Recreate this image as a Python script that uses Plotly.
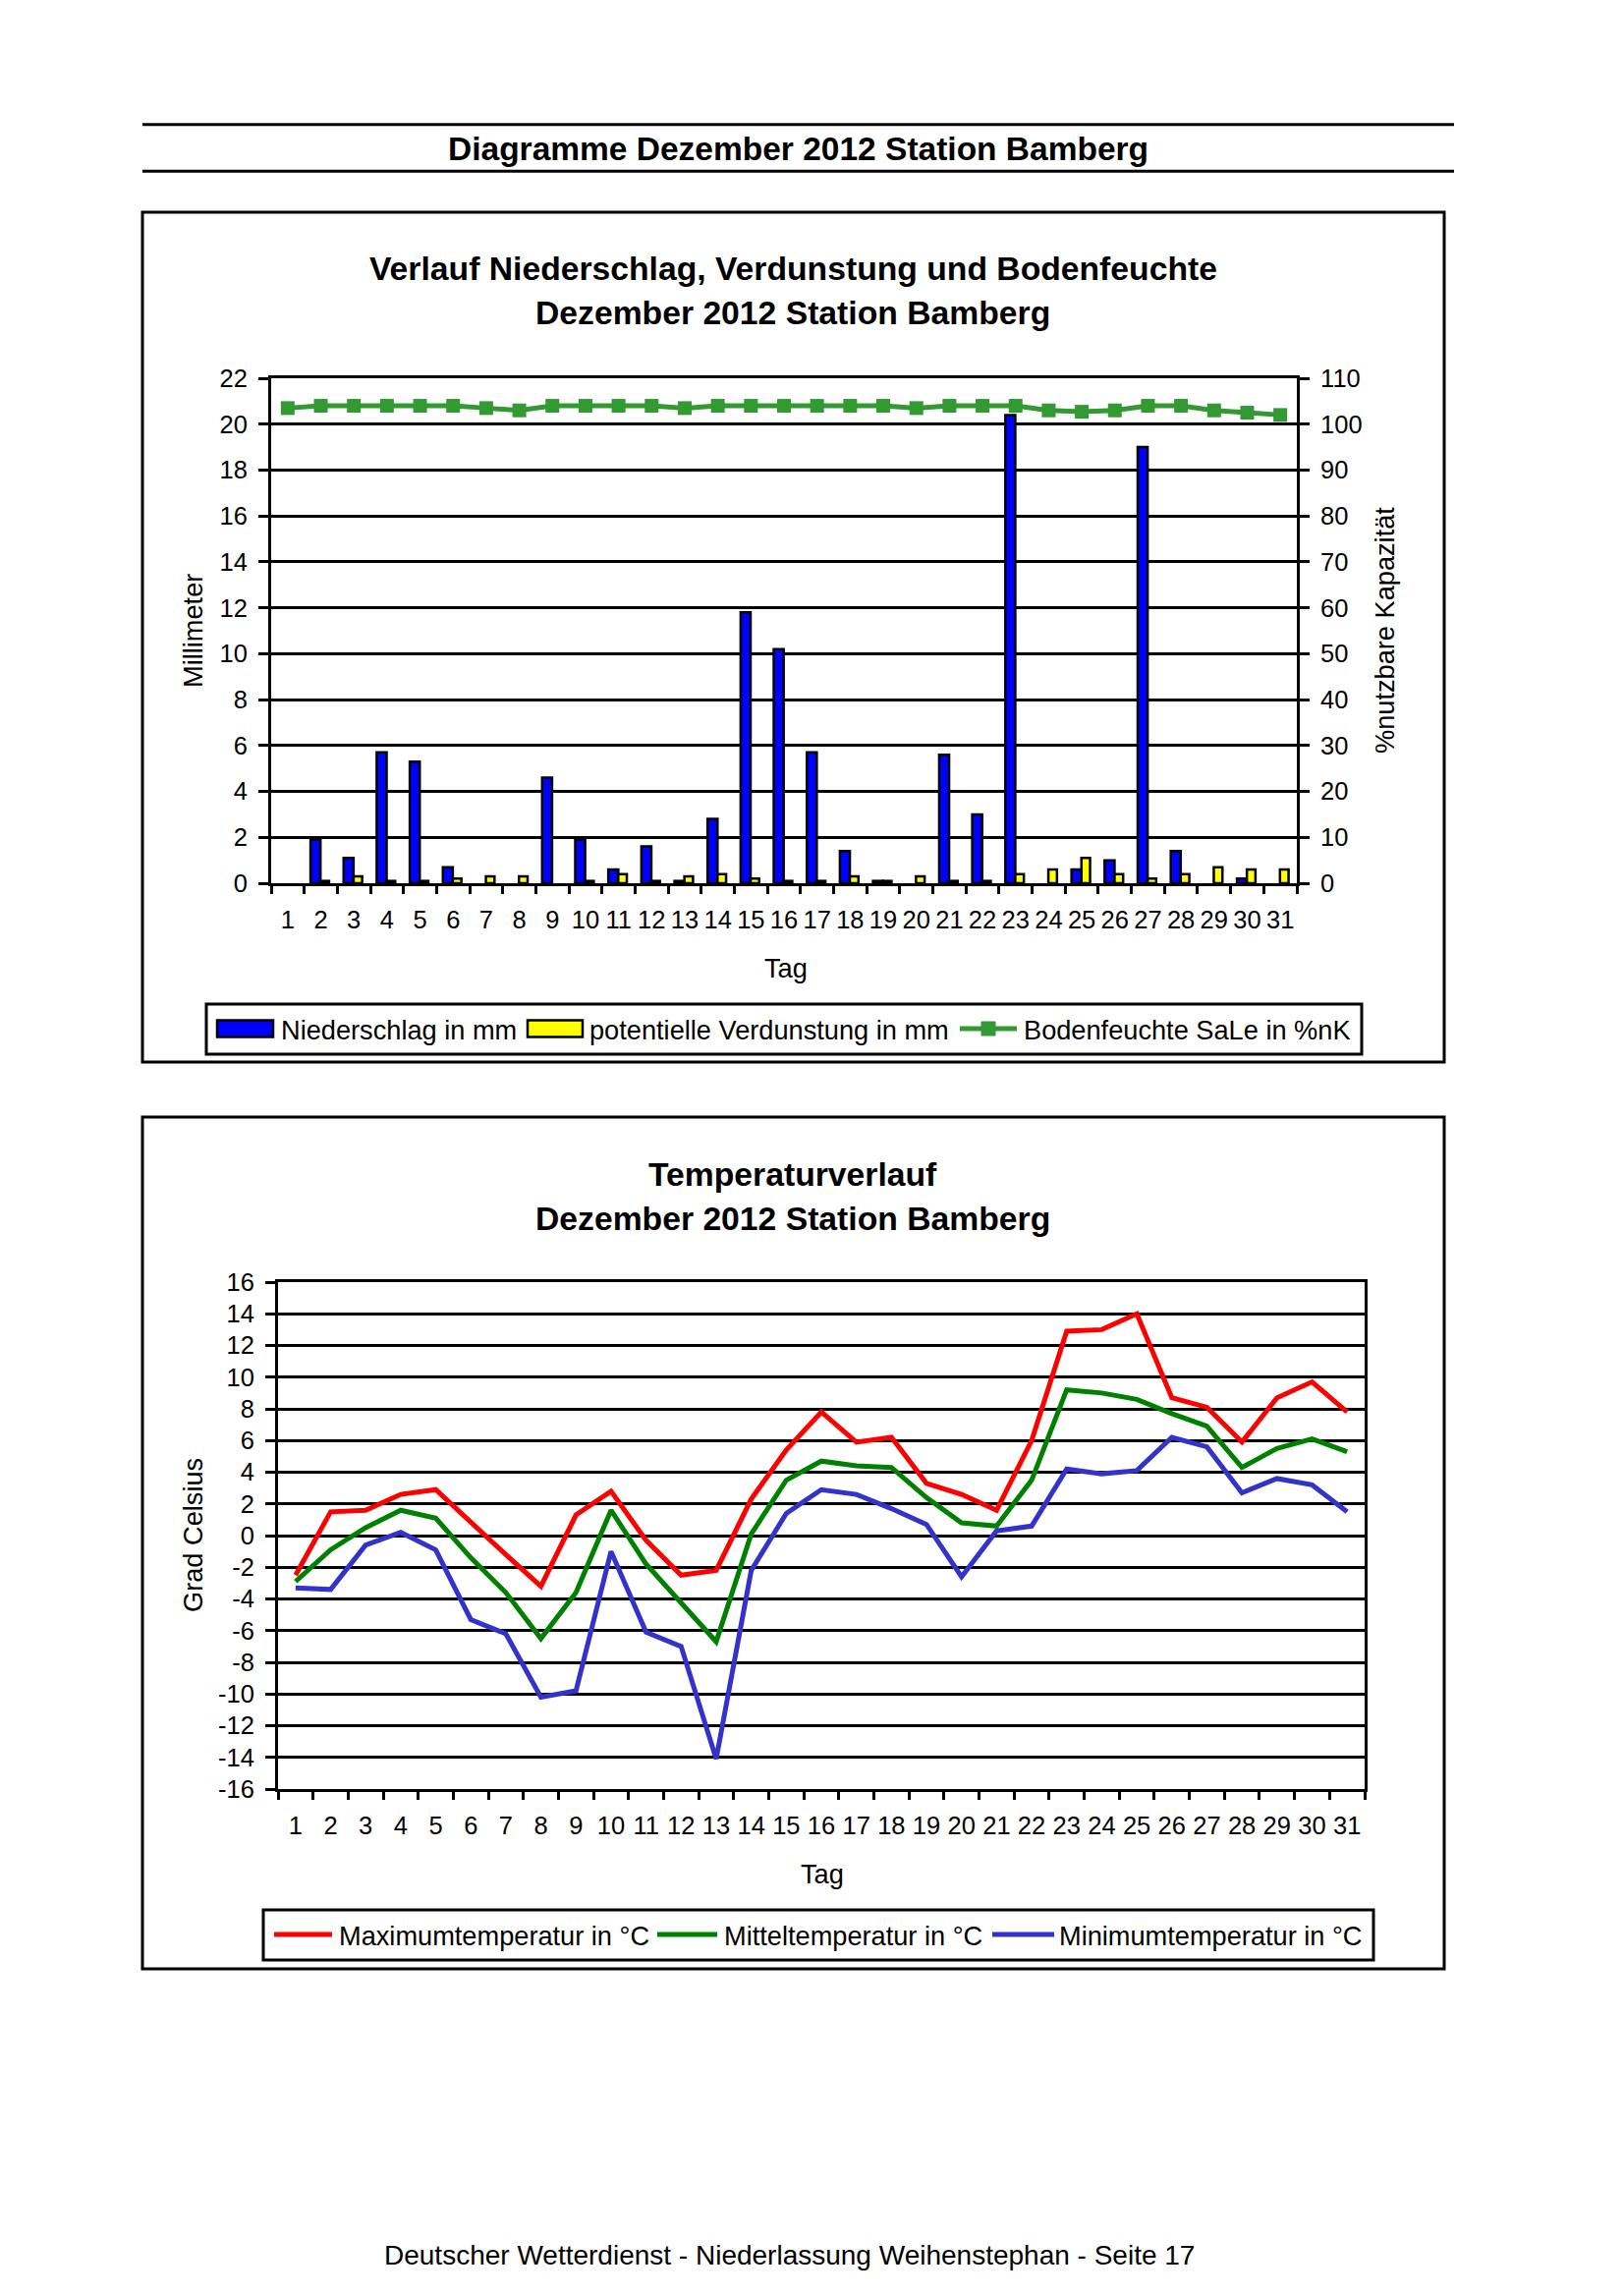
import plotly.graph_objects as go

W, H = 1653, 2337

# ---------------- data ----------------
days = [str(d) for d in range(1, 32)]

niederschlag = [0.0, 1.9, 1.1, 5.7, 5.3, 0.7, 0.0, 0.0, 4.6, 1.9, 0.6, 1.6, 0.1, 2.8, 11.8, 10.2,
                5.7, 1.4, 0.1, 0.0, 5.6, 3.0, 20.4, 0.0, 0.6, 1.0, 19.0, 1.4, 0.0, 0.2, 0.0]
verdunstung = [0.0, 0.1, 0.3, 0.1, 0.1, 0.2, 0.3, 0.3, 0.0, 0.1, 0.4, 0.1, 0.3, 0.4, 0.2, 0.1,
               0.1, 0.3, 0.1, 0.3, 0.1, 0.1, 0.4, 0.6, 1.1, 0.4, 0.2, 0.4, 0.7, 0.6, 0.6]
bodenfeuchte = [103.5, 104, 104, 104, 104, 104, 103.5, 103, 104, 104, 104, 104, 103.5, 104, 104, 104,
                104, 104, 104, 103.5, 104, 104, 104, 103, 102.7, 103, 104, 104, 103, 102.5, 102]

tmax = [-2.5, 1.5, 1.6, 2.6, 2.9, 0.8, -1.2, -3.2, 1.3, 2.8, -0.3, -2.5, -2.2, 2.3, 5.4, 7.8,
        5.9, 6.2, 3.3, 2.6, 1.6, 6.0, 12.9, 13.0, 14.0, 8.7, 8.1, 5.9, 8.7, 9.7, 7.8]
tmit = [-2.9, -0.9, 0.5, 1.6, 1.1, -1.4, -3.6, -6.5, -3.6, 1.6, -1.8, -4.2, -6.7, 0.1, 3.5, 4.7,
        4.4, 4.3, 2.4, 0.8, 0.6, 3.5, 9.2, 9.0, 8.6, 7.7, 6.9, 4.3, 5.5, 6.1, 5.3]
tmin = [-3.3, -3.4, -0.6, 0.2, -0.9, -5.3, -6.2, -10.2, -9.8, -1.0, -6.1, -7.0, -14.1, -2.2, 1.4, 2.9,
        2.6, 1.7, 0.7, -2.6, 0.3, 0.6, 4.2, 3.9, 4.1, 6.2, 5.6, 2.7, 3.6, 3.2, 1.5]

mm_ticks = list(range(0, 23, 2))
pct_ticks = list(range(0, 111, 10))
temp_ticks = list(range(-16, 17, 2))
temp_ticktext = [str(t) for t in temp_ticks]  # plain hyphen minus as in the original

names_top = ["Niederschlag in mm", "potentielle Verdunstung in mm", "Bodenfeuchte SaLe in %nK"]
names_temp = ["Maximumtemperatur in °C", "Mitteltemperatur in °C", "Minimumtemperatur in °C"]

# ---------------- style ----------------
FONT = "Liberation Sans, Arial, sans-serif"
BLUE = "#0000FF"
YELLOW = "#FFFF00"
SOILGREEN = "#339933"
RED = "#FF0000"
GREEN = "#008000"
MINBLUE = "#3333CC"


def px(x):
    return x / W


def py(y):
    return 1 - y / H


fig = go.Figure()

# top chart
fig.add_trace(go.Bar(x=days, y=niederschlag, name=names_top[0], width=0.3, offset=-0.31,
                     marker=dict(color=BLUE, line=dict(color="black",
                                                       width=[2.5 if v > 0 else 0 for v in niederschlag])),
                     xaxis="x", yaxis="y", showlegend=False))
fig.add_trace(go.Bar(x=days, y=verdunstung, name=names_top[1], width=0.26, offset=-0.01,
                     marker=dict(color=YELLOW, line=dict(color="black",
                                                         width=[2.5 if v > 0 else 0 for v in verdunstung])),
                     xaxis="x", yaxis="y", showlegend=False))
fig.add_trace(go.Scatter(x=days, y=bodenfeuchte, name=names_top[2], mode="lines+markers",
                         line=dict(color=SOILGREEN, width=5),
                         marker=dict(symbol="square", size=14, color=SOILGREEN),
                         xaxis="x", yaxis="y2", showlegend=False))

# temperature chart
for vals, nm, col in [(tmax, names_temp[0], RED), (tmit, names_temp[1], GREEN), (tmin, names_temp[2], MINBLUE)]:
    fig.add_trace(go.Scatter(x=days, y=vals, name=nm, mode="lines",
                             line=dict(color=col, width=5),
                             xaxis="x2", yaxis="y3", showlegend=False))

tickfont = dict(family=FONT, size=25.5, color="black")

xcommon = dict(type="category", categoryorder="array", categoryarray=days,
               range=[-0.5, 30.5], showgrid=False, zeroline=False,
               showline=True, linecolor="black", linewidth=3, mirror=True,
               ticks="outside", tickson="boundaries", ticklen=8, tickwidth=3,
               tickcolor="black", tickfont=tickfont, tickangle=0, ticklabelstandoff=12,
               automargin=False)

ycommon = dict(showgrid=True, gridcolor="black", gridwidth=3, zeroline=False,
               showline=True, linecolor="black", linewidth=3,
               ticks="outside", ticklen=10, tickwidth=3, tickcolor="black",
               tickfont=tickfont, ticklabelstandoff=6, automargin=False)

fig.update_layout(
    width=W, height=H,
    autosize=False,
    margin=dict(l=0, r=0, t=0, b=0, pad=0, autoexpand=False),
    paper_bgcolor="white", plot_bgcolor="white",
    barmode="overlay",
    showlegend=False,
    xaxis=dict(domain=[px(276), px(1320)], anchor="y", **xcommon),
    yaxis=dict(domain=[py(899), py(385)], range=[0, 22], tickvals=mm_ticks,
               anchor="x", **ycommon),
    yaxis2=dict(overlaying="y", side="right", anchor="x", range=[0, 110], tickvals=pct_ticks,
                showgrid=False, zeroline=False, showline=True, linecolor="black", linewidth=3,
                ticks="outside", ticklen=10, tickwidth=3, tickcolor="black",
                tickfont=tickfont, ticklabelstandoff=6, automargin=False),
    xaxis2=dict(domain=[px(283), px(1389)], anchor="y3", **xcommon),
    yaxis3=dict(domain=[py(1821), py(1305)], range=[-16, 16], tickvals=temp_ticks,
                ticktext=temp_ticktext, anchor="x2", mirror=True, **ycommon),
)

shapes = []


def line(x0, y0, x1, y1, color="black", width=3):
    shapes.append(dict(type="line", xref="paper", yref="paper", x0=px(x0), y0=py(y0),
                       x1=px(x1), y1=py(y1), line=dict(color=color, width=width)))


def rect(x0, y0, x1, y1, fill=None, color="black", width=3):
    shapes.append(dict(type="rect", xref="paper", yref="paper", x0=px(x0), y0=py(y0),
                       x1=px(x1), y1=py(y1), line=dict(color=color, width=width),
                       fillcolor=fill if fill else "rgba(0,0,0,0)"))


# header lines
line(145, 126.7, 1480, 126.7)
line(145, 174.3, 1480, 174.3)
# chart boxes
rect(145, 216, 1470, 1081)
rect(145, 1137, 1470, 2004)
# legend boxes
rect(210, 1022, 1386, 1073)
rect(268, 1944, 1398, 1995)

# legend symbols top
LY1 = 1047
rect(221, 1038.5, 278, 1055.5, fill=BLUE, width=2.5)
rect(537, 1038.5, 593, 1055.5, fill=YELLOW, width=2.5)
line(977, LY1, 1035, LY1, color=SOILGREEN, width=5)
rect(999, LY1 - 7, 1013, LY1 + 7, fill=SOILGREEN, color=SOILGREEN, width=1)
# legend symbols temperature
LY2 = 1969
line(279, LY2, 338, LY2, color=RED, width=5)
line(669, LY2, 730, LY2, color=GREEN, width=5)
line(1010, LY2, 1073, LY2, color=MINBLUE, width=5)

annotations = []


def text(s, x, y, size=27.2, bold=False, xanchor="center", angle=0):
    annotations.append(dict(text=f"<b>{s}</b>" if bold else s, xref="paper", yref="paper",
                            x=px(x), y=py(y), xanchor=xanchor, yanchor="middle",
                            showarrow=False, textangle=angle,
                            font=dict(family=FONT, size=size, color="black")))


text("Diagramme Dezember 2012 Station Bamberg", 812, 151, size=33.5, bold=True)
text("Verlauf Niederschlag, Verdunstung und Bodenfeuchte", 807, 273, size=33.7, bold=True)
text("Dezember 2012 Station Bamberg", 807, 318, size=33.7, bold=True)
text("Millimeter", 196, 642, angle=-90)
text("%nutzbare Kapazität", 1409, 642, angle=-90)
text("Tag", 800, 985)
text(names_top[0], 284, LY1 + 1, xanchor="left")
text(names_top[1], 598, LY1 + 1, xanchor="left")
text(names_top[2], 1040, LY1 + 1, xanchor="left")

text("Temperaturverlauf", 807, 1195, size=33.7, bold=True)
text("Dezember 2012 Station Bamberg", 807, 1240, size=33.7, bold=True)
text("Grad Celsius", 196, 1563, angle=-90)
text("Tag", 837, 1907)
text(names_temp[0], 343, LY2 + 1, xanchor="left")
text(names_temp[1], 735, LY2 + 1, xanchor="left")
text(names_temp[2], 1076, LY2 + 1, xanchor="left")

text("Deutscher Wetterdienst - Niederlassung Weihenstephan - Seite 17", 803, 2295, size=28)

fig.update_layout(shapes=shapes, annotations=annotations)

fig.write_html("out.html", config={"displayModeBar": False},
               post_script="document.body.style.margin='0px';")
